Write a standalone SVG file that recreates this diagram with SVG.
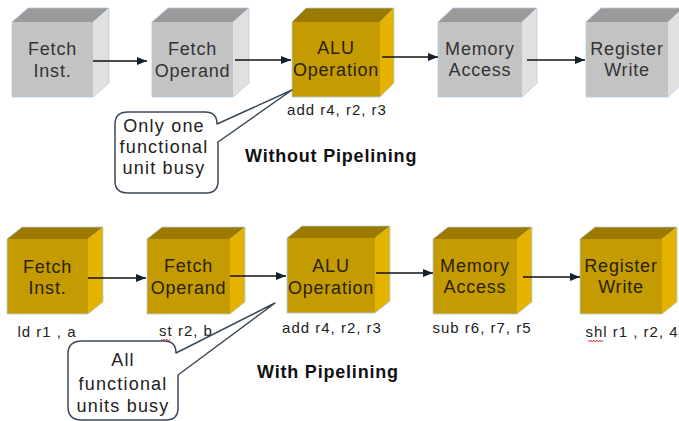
<svg xmlns="http://www.w3.org/2000/svg" width="679" height="421" viewBox="0 0 679 421">
<defs>
<marker id="ah" markerWidth="10" markerHeight="8" refX="10" refY="4" orient="auto" markerUnits="userSpaceOnUse">
<path d="M0,0 L10,4 L0,8 Z" fill="#14202c"/>
</marker>
<style>
.gf{fill:#c3c3c3}.gt{fill:#9a9a9a}.gs{fill:#e0e0e0}
.yf{fill:#c49b00}.yt{fill:#9c7a00}.ys{fill:#e3b300}
.edge{fill:none;stroke:#b3cce6;stroke-width:0.8}
.lbl{font-family:"Liberation Sans",Arial,sans-serif;font-size:18px;letter-spacing:0.8px;text-anchor:middle}
.lg{fill:#333333}.ly{fill:#2a2200}
.ins{font-family:"Liberation Sans",Arial,sans-serif;font-size:15px;letter-spacing:1px;text-anchor:middle;fill:#222}
.ttl{font-family:"Liberation Sans",Arial,sans-serif;font-size:18px;font-weight:bold;letter-spacing:0.8px;fill:#111}
.co{fill:#fff;stroke:#3a4858;stroke-width:1.5;stroke-linejoin:round}
.cot{font-family:"Liberation Sans",Arial,sans-serif;font-size:18px;letter-spacing:1.2px;text-anchor:middle;fill:#222}
.arr{stroke:#111;stroke-width:1.5;fill:none;marker-end:url(#ah)}
.sq{fill:none;stroke:#e03030;stroke-width:0.9}
</style>
</defs>

<!-- Top row: without pipelining -->
<g id="top-fetch-inst">
<polygon class="gt" points="12,22 28,8 109,8 93,22"/>
<polygon class="gs" points="93,22 109,8 109,83 93,97"/>
<rect class="gf" x="12" y="22" width="81" height="75"/>
<path class="edge" d="M12,97 V22 L28,8 H109 V83 L93,97 Z"/>
<text class="lbl lg" x="52.5" y="55">Fetch</text>
<text class="lbl lg" x="52.5" y="77">Inst.</text>
</g>
<g id="top-fetch-operand">
<polygon class="gt" points="152,22 168,8 249,8 233,22"/>
<polygon class="gs" points="233,22 249,8 249,83 233,97"/>
<rect class="gf" x="152" y="22" width="81" height="75"/>
<path class="edge" d="M152,97 V22 L168,8 H249 V83 L233,97 Z"/>
<text class="lbl lg" x="192.5" y="55">Fetch</text>
<text class="lbl lg" x="192.5" y="77">Operand</text>
</g>
<g id="top-alu">
<polygon class="yt" points="292,22 306,8 394,8 380,22"/>
<polygon class="ys" points="380,22 394,8 394,83 380,97"/>
<rect class="yf" x="292" y="22" width="88" height="75"/>
<path class="edge" d="M292,97 V22 L306,8 H394 V83 L380,97 Z"/>
<text class="lbl ly" x="336" y="54">ALU</text>
<text class="lbl ly" x="336" y="76">Operation</text>
<text class="ins" x="337" y="115">add r4, r2, r3</text>
</g>
<g id="top-memory">
<polygon class="gt" points="438,22 453,8 537,8 522,22"/>
<polygon class="gs" points="522,22 537,8 537,83 522,97"/>
<rect class="gf" x="438" y="22" width="84" height="75"/>
<path class="edge" d="M438,97 V22 L453,8 H537 V83 L522,97 Z"/>
<text class="lbl lg" x="480" y="55">Memory</text>
<text class="lbl lg" x="480" y="76">Access</text>
</g>
<g id="top-register">
<polygon class="gt" points="586,22 601,8 683,8 668,22"/>
<polygon class="gs" points="668,22 683,8 683,83 668,97"/>
<rect class="gf" x="586" y="22" width="82" height="75"/>
<path class="edge" d="M586,97 V22 L601,8 H683 V83 L668,97 Z"/>
<text class="lbl lg" x="627" y="55">Register</text>
<text class="lbl lg" x="627" y="76">Write</text>
</g>

<g id="callout-top">
<path class="co" d="M128,112 H205 Q217,112 217,124 L292,90 L218,142 V181 Q218,193 206,193 H128 Q115,193 115,181 V124 Q115,112 128,112 Z"/>
<text class="cot" x="164" y="132">Only one</text>
<text class="cot" x="164" y="153">functional</text>
<text class="cot" x="164" y="174">unit busy</text>
</g>
<text id="title-without" class="ttl" x="245" y="162">Without Pipelining</text>

<!-- Bottom row: with pipelining -->
<g id="bot-fetch-inst">
<polygon class="yt" points="7,239 22,227 103,227 88,239"/>
<polygon class="ys" points="88,239 103,227 103,302 88,314"/>
<rect class="yf" x="7" y="239" width="81" height="75"/>
<path class="edge" d="M7,314 V239 L22,227 H103 V302 L88,314 Z"/>
<text class="lbl ly" x="47.5" y="273">Fetch</text>
<text class="lbl ly" x="47.5" y="294">Inst.</text>
<text class="ins" x="47" y="337">ld r1 , a</text>
</g>
<g id="bot-fetch-operand">
<polygon class="yt" points="147,239 162,227 245,227 230,239"/>
<polygon class="ys" points="230,239 245,227 245,302 230,314"/>
<rect class="yf" x="147" y="239" width="83" height="75"/>
<path class="edge" d="M147,314 V239 L162,227 H245 V302 L230,314 Z"/>
<text class="lbl ly" x="188.5" y="272">Fetch</text>
<text class="lbl ly" x="188.5" y="294">Operand</text>
<text class="ins" x="186" y="336">st r2, b</text>
<path class="sq" d="M161,339 l1.5,2 l1.5,-2 l1.5,2 l1.5,-2 l1.5,2 l1.5,-2"/>
</g>
<g id="bot-alu">
<polygon class="yt" points="287,238 302,226 390,226 375,238"/>
<polygon class="ys" points="375,238 390,226 390,301 375,313"/>
<rect class="yf" x="287" y="238" width="88" height="75"/>
<path class="edge" d="M287,313 V238 L302,226 H390 V301 L375,313 Z"/>
<text class="lbl ly" x="331" y="272">ALU</text>
<text class="lbl ly" x="331" y="294">Operation</text>
<text class="ins" x="332" y="333">add r4, r2, r3</text>
</g>
<g id="bot-memory">
<polygon class="yt" points="433,239 448,227 532,227 517,239"/>
<polygon class="ys" points="517,239 532,227 532,302 517,314"/>
<rect class="yf" x="433" y="239" width="84" height="75"/>
<path class="edge" d="M433,314 V239 L448,227 H532 V302 L517,314 Z"/>
<text class="lbl ly" x="475" y="272">Memory</text>
<text class="lbl ly" x="475" y="293">Access</text>
<text class="ins" x="482" y="333">sub r6, r7, r5</text>
</g>
<g id="bot-register">
<polygon class="yt" points="580,239 595,227 677,227 662,239"/>
<polygon class="ys" points="662,239 677,227 677,302 662,314"/>
<rect class="yf" x="580" y="239" width="82" height="75"/>
<path class="edge" d="M580,314 V239 L595,227 H677 V302 L662,314 Z"/>
<text class="lbl ly" x="621" y="272">Register</text>
<text class="lbl ly" x="621" y="293">Write</text>
<text class="ins" x="632" y="337">shl r1 , r2, 4</text>
<path class="sq" d="M588,340 l1.5,2 l1.5,-2 l1.5,2 l1.5,-2 l1.5,2 l1.5,-2 l1.5,2 l1.5,-2 l1.5,2 l1.5,-2"/>
</g>

<g id="callout-bottom">
<path class="co" d="M82,341 H164 Q176,341 176,353 L275,303 L178,375 V408 Q178,420 166,420 H82 Q68,420 68,407 V354 Q68,341 82,341 Z"/>
<text class="cot" x="123" y="366">All</text>
<text class="cot" x="123" y="390">functional</text>
<text class="cot" x="123" y="412">units busy</text>
</g>
<text id="title-with" class="ttl" x="257" y="378">With Pipelining</text>

<g id="connectors">
<line class="arr" x1="93" y1="61" x2="147" y2="61"/>
<line class="arr" x1="235" y1="60" x2="291" y2="60"/>
<line class="arr" x1="382" y1="57" x2="438" y2="57"/>
<line class="arr" x1="527" y1="60" x2="585" y2="60"/>
<line class="arr" x1="88" y1="278" x2="146" y2="278"/>
<line class="arr" x1="230" y1="276" x2="286" y2="276"/>
<line class="arr" x1="376" y1="273" x2="433" y2="273"/>
<line class="arr" x1="523" y1="277" x2="580" y2="277"/>
</g>
</svg>
